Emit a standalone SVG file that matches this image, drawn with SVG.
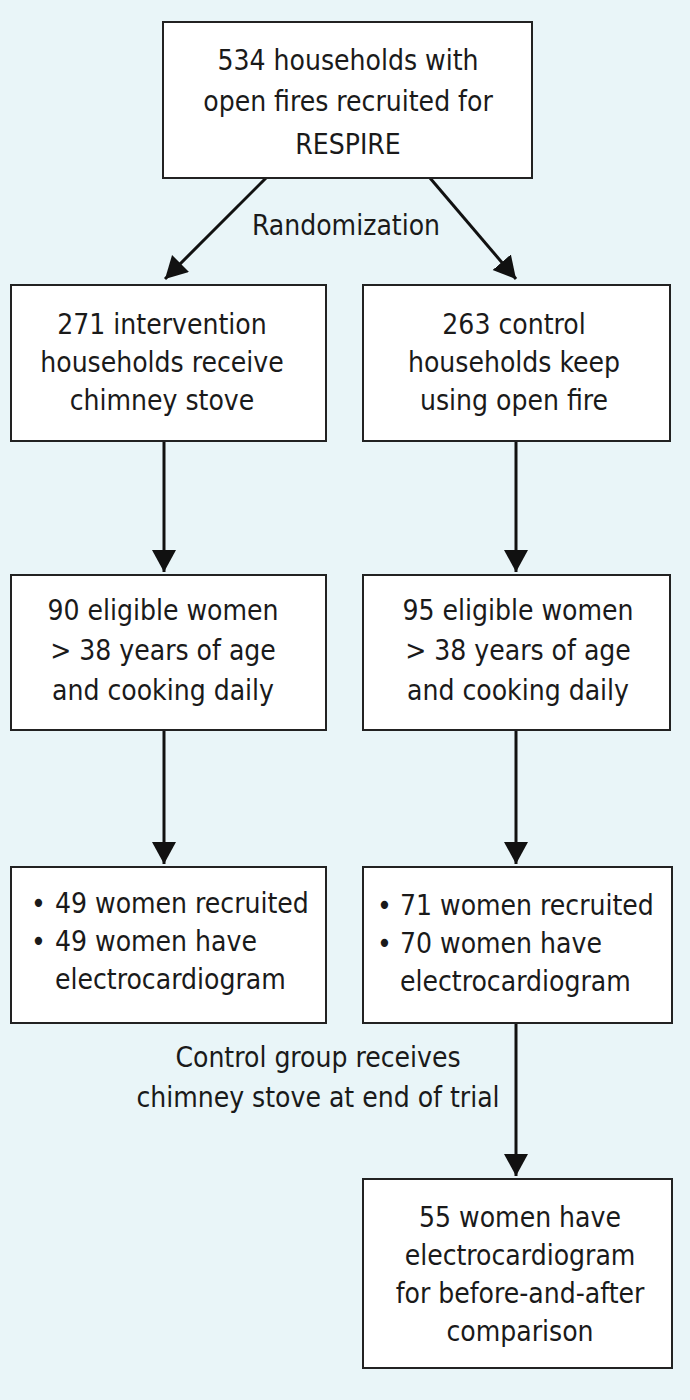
<svg xmlns="http://www.w3.org/2000/svg" width="690" height="1400" viewBox="0 0 690 1400">
<defs>
<marker id="ah" markerUnits="userSpaceOnUse" markerWidth="26" markerHeight="26" refX="22" refY="12" orient="auto">
<path d="M0,0 L22,12 L0,24 Z" fill="#111"/>
</marker>
<style>
.box{fill:#fff;stroke:#222;stroke-width:2}
.t{font-family:"Liberation Sans Narrow","DejaVu Sans Condensed","Liberation Sans",sans-serif;font-size:28px;fill:#1a1a1a}
.c{text-anchor:middle}
.ln{stroke:#111;stroke-width:3;fill:none;marker-end:url(#ah)}
</style>
</defs>
<rect x="0" y="0" width="690" height="1400" fill="#e9f5f8"/>
<g id="connectors">
<line class="ln" x1="266" y1="178" x2="165" y2="279"/>
<line class="ln" x1="430" y1="178" x2="516" y2="279"/>
<line class="ln" x1="164" y1="441" x2="164" y2="572"/>
<line class="ln" x1="516" y1="441" x2="516" y2="572"/>
<line class="ln" x1="164" y1="730" x2="164" y2="864"/>
<line class="ln" x1="516" y1="730" x2="516" y2="864"/>
<line class="ln" x1="516" y1="1023" x2="516" y2="1176"/>
<text class="t c" x="346" y="235">Randomization</text>
<text class="t c" x="318" y="1067">Control group receives</text>
<text class="t c" x="318" y="1107">chimney stove at end of trial</text>
</g>
<g id="n1">
<rect class="box" x="163" y="22" width="369" height="156"/>
<text class="t c" x="348" y="70">534 households with</text>
<text class="t c" x="348" y="111">open fires recruited for</text>
<text class="t c" x="348" y="154">RESPIRE</text>
</g>
<g id="n2">
<rect class="box" x="11" y="285" width="315" height="156"/>
<text class="t c" x="162" y="334">271 intervention</text>
<text class="t c" x="162" y="372">households receive</text>
<text class="t c" x="162" y="410">chimney stove</text>
</g>
<g id="n3">
<rect class="box" x="363" y="285" width="307" height="156"/>
<text class="t c" x="514" y="334">263 control</text>
<text class="t c" x="514" y="372">households keep</text>
<text class="t c" x="514" y="410">using open fire</text>
</g>
<g id="n4">
<rect class="box" x="11" y="575" width="315" height="155"/>
<text class="t c" x="163" y="620">90 eligible women</text>
<text class="t c" x="163" y="660">&gt; 38 years of age</text>
<text class="t c" x="163" y="700">and cooking daily</text>
</g>
<g id="n5">
<rect class="box" x="363" y="575" width="307" height="155"/>
<text class="t c" x="518" y="620">95 eligible women</text>
<text class="t c" x="518" y="660">&gt; 38 years of age</text>
<text class="t c" x="518" y="700">and cooking daily</text>
</g>
<g id="n6">
<rect class="box" x="11" y="867" width="315" height="156"/>
<text class="t" x="31" y="913">•</text>
<text class="t" x="55" y="913">49 women recruited</text>
<text class="t" x="31" y="951">•</text>
<text class="t" x="55" y="951">49 women have</text>
<text class="t" x="55" y="989">electrocardiogram</text>
</g>
<g id="n7">
<rect class="box" x="363" y="867" width="309" height="156"/>
<text class="t" x="377" y="915">•</text>
<text class="t" x="400" y="915">71 women recruited</text>
<text class="t" x="377" y="953">•</text>
<text class="t" x="400" y="953">70 women have</text>
<text class="t" x="400" y="991">electrocardiogram</text>
</g>
<g id="n8">
<rect class="box" x="363" y="1179" width="309" height="189"/>
<text class="t c" x="520" y="1227">55 women have</text>
<text class="t c" x="520" y="1265">electrocardiogram</text>
<text class="t c" x="520" y="1303">for before-and-after</text>
<text class="t c" x="520" y="1341">comparison</text>
</g>
</svg>
